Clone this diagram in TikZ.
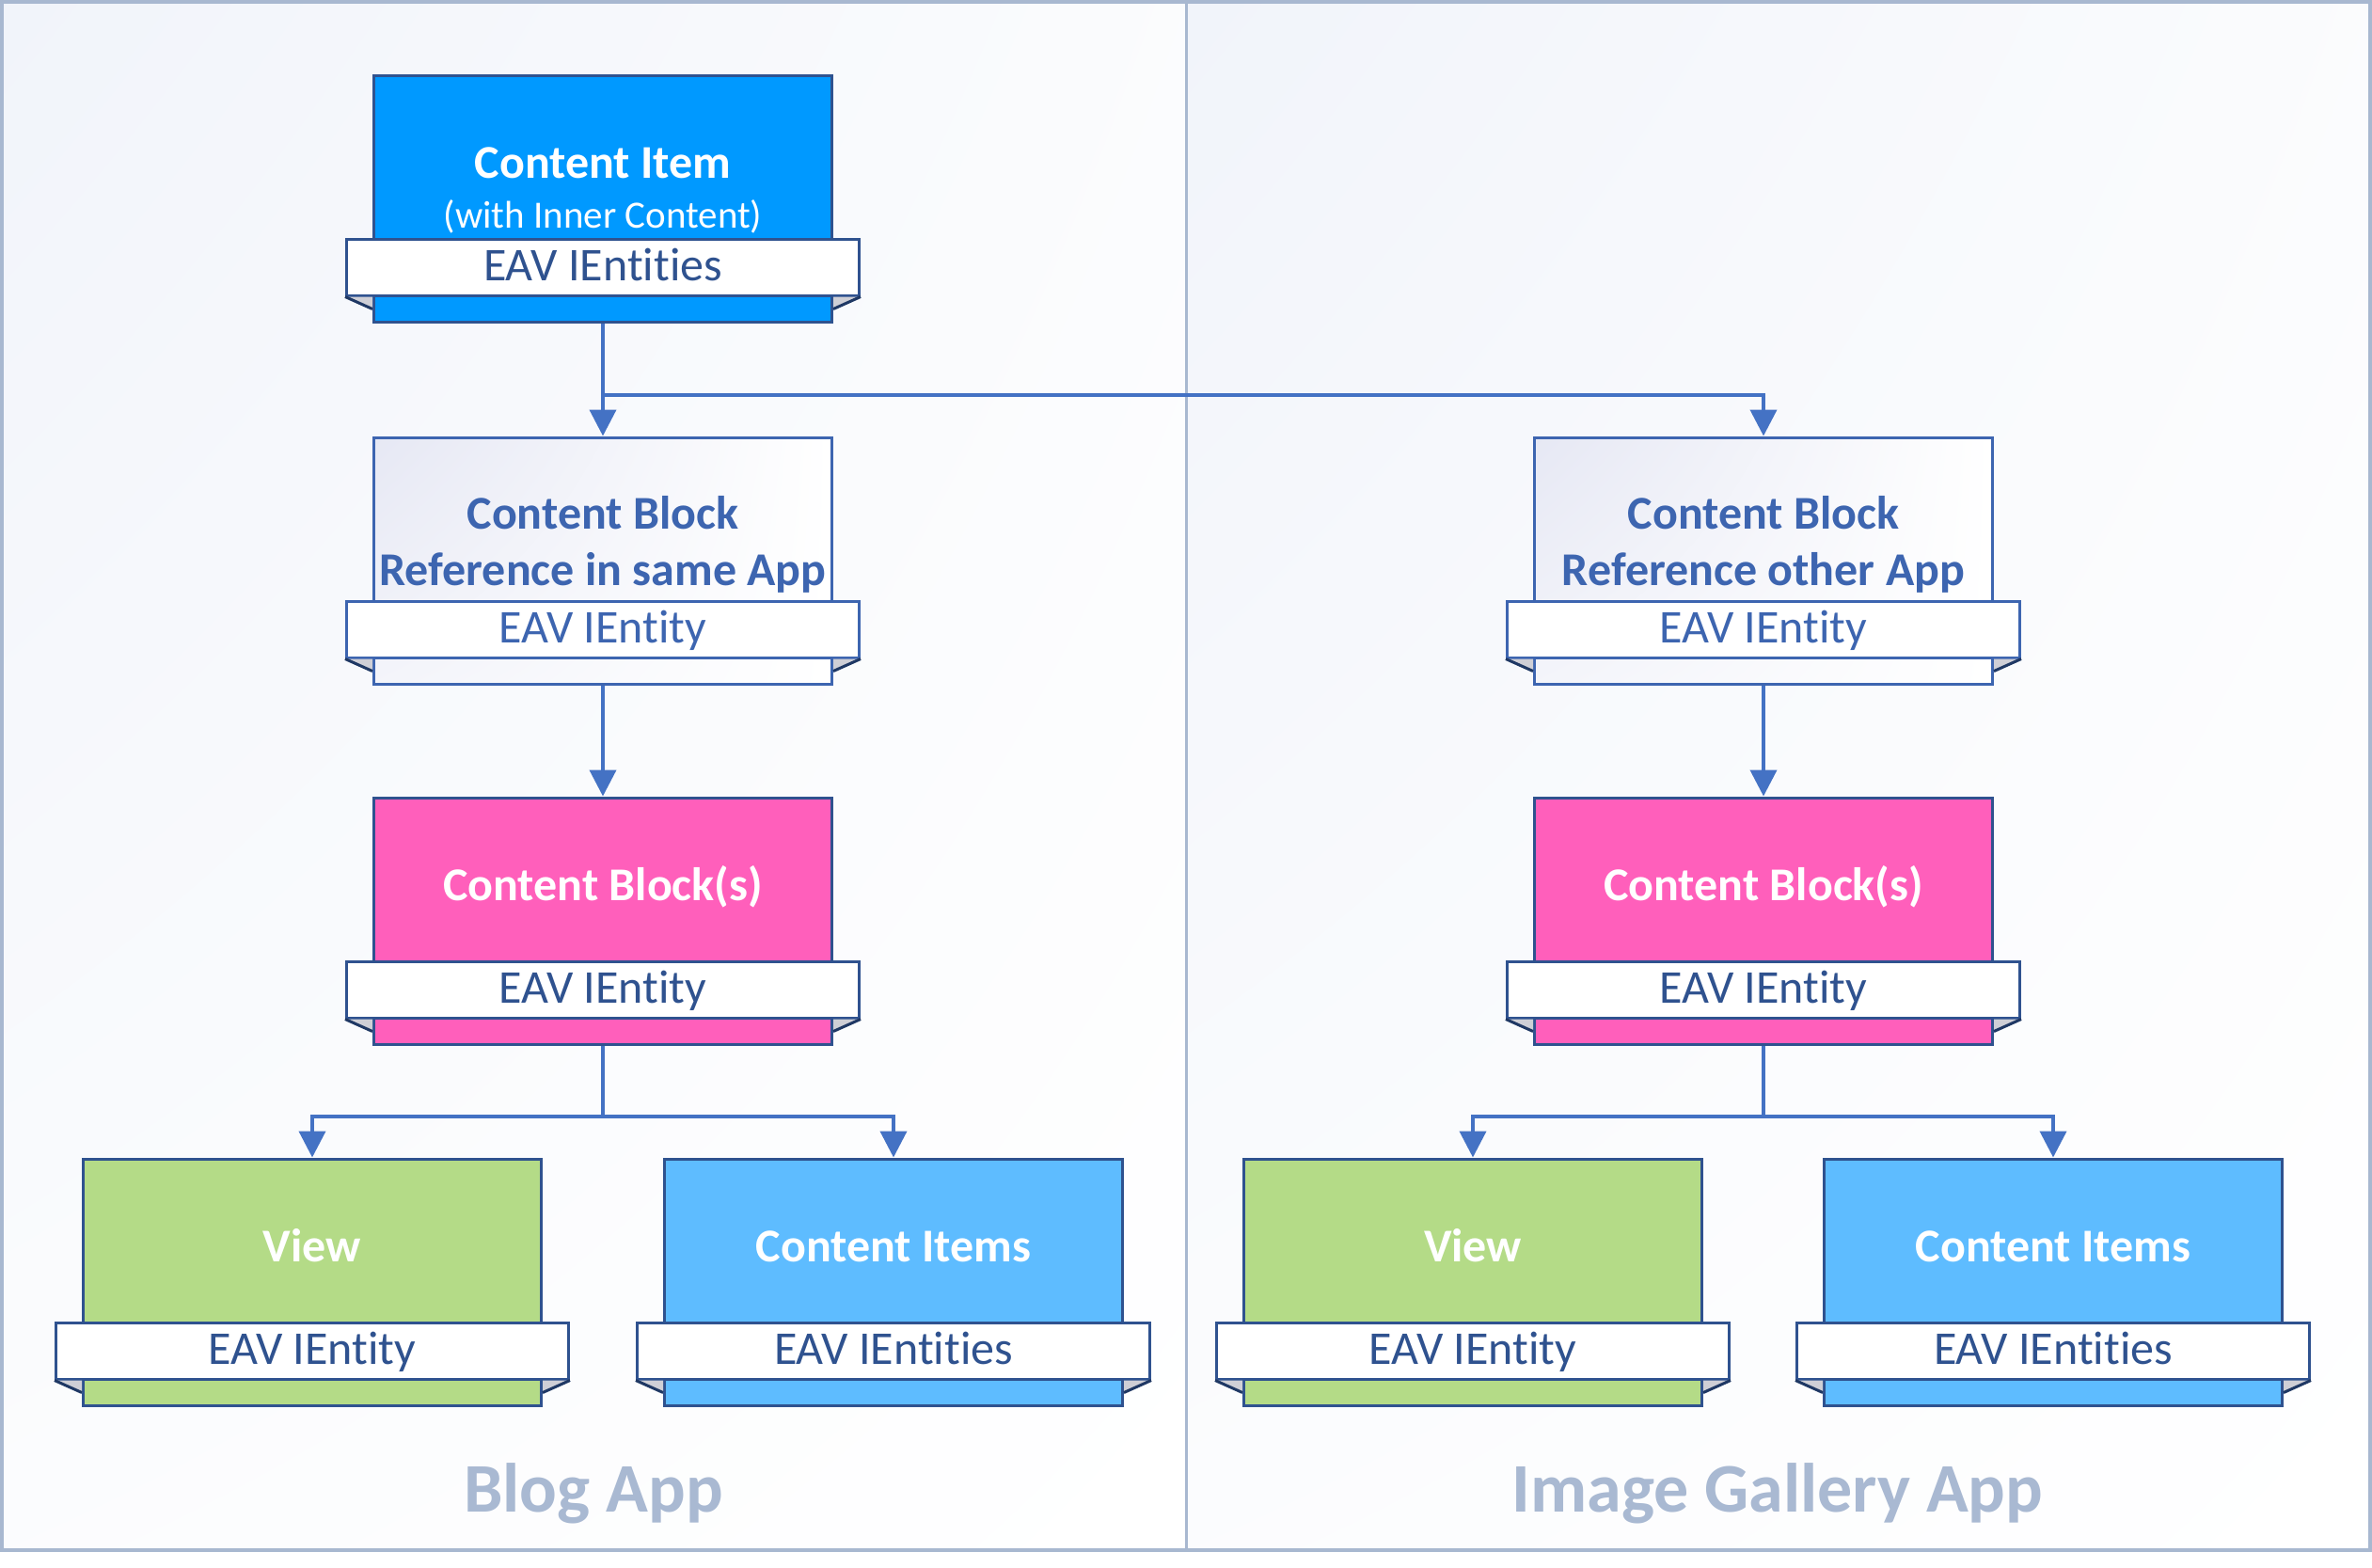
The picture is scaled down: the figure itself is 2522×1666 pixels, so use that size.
\documentclass[tikz,border=0pt]{standalone}
\usepackage{fontspec}
\setmainfont[Ligatures={NoCommon,NoRare,NoContextual}]{Carlito}
\usetikzlibrary{arrows.meta,calc,shadings}

\definecolor{navy}{HTML}{2F528F}
\definecolor{refblue}{HTML}{3D65B0}
\definecolor{linkblue}{HTML}{4472C4}
\definecolor{itemblue}{HTML}{0099FF}
\definecolor{blockpink}{HTML}{FF5FBB}
\definecolor{viewgreen}{HTML}{B4DB87}
\definecolor{itemsblue}{HTML}{5EBCFF}
\definecolor{framegrey}{HTML}{A8B8D0}
\definecolor{labelgrey}{HTML}{A9B9D2}
\definecolor{tailgrey}{HTML}{CFCFD6}
\definecolor{taildark}{HTML}{1F3864}
\definecolor{paneltint}{HTML}{F1F4FA}
\definecolor{reftint}{HTML}{E6E8F4}

\tikzset{
  appbox/.style={draw=navy, line width=0.9pt, minimum width=146.1pt, minimum height=78.6pt, inner sep=0pt},
  refbox/.style={appbox, draw=refblue, shade, upper left=reftint, upper right=white, lower left=white!55!reftint, lower right=white},
  ribbon/.style={draw=navy, fill=white, line width=0.9pt, minimum width=163.5pt, minimum height=18pt, inner sep=0pt,
    text height=10pt, text depth=1.6pt, text=navy, font=\fontsize{15}{18}\selectfont},
  refribbon/.style={ribbon, draw=refblue, text=refblue},
  title/.style={anchor=base, inner sep=0pt, text=white, font=\fontsize{15}{18}\selectfont\bfseries},
  subtitle/.style={anchor=base, inner sep=0pt, text=white, font=\fontsize{12.3}{15}\selectfont},
  applabel/.style={anchor=base, inner sep=0pt, text=labelgrey, font=\fontsize{22.2}{26}\selectfont\bfseries},
  link/.style={draw=linkblue, line width=1.2pt, -{Triangle[width=8.4pt,length=8.4pt]}}
}

\begin{document}
\begin{tikzpicture}[x=0.3pt,y=0.3pt,yscale=-1]
\useasboundingbox (0,0) rectangle (2522,1666);

% Panels
\shade[upper left=paneltint, upper right=white!70!paneltint, lower left=white!75!paneltint, lower right=white] (2,2) rectangle (1261,1648);
\shade[upper left=paneltint, upper right=white!70!paneltint, lower left=white!75!paneltint, lower right=white] (1261,2) rectangle (2520,1648);
\draw[framegrey, line width=1.2pt] (2,2) rectangle (2520,1648);
\draw[framegrey, line width=0.9pt] (1261,2) -- (1261,1648);

% Boxes
\node[appbox, fill=itemblue] (item) at (641,211) {};
\node[refbox] (refL) at (641,596) {};
\node[refbox] (refR) at (1875,596) {};
\node[appbox, fill=blockpink] (blockL) at (641,979) {};
\node[appbox, fill=blockpink] (blockR) at (1875,979) {};
\node[appbox, fill=viewgreen] (viewL) at (332,1363) {};
\node[appbox, fill=itemsblue] (itemsL) at (950,1363) {};
\node[appbox, fill=viewgreen] (viewR) at (1566,1363) {};
\node[appbox, fill=itemsblue] (itemsR) at (2183,1363) {};

% Ribbons
\node[ribbon] (item-rib) at (641,284) {EAV IEntities};
\node[refribbon] (refL-rib) at (641,669) {EAV IEntity};
\node[refribbon] (refR-rib) at (1875,669) {EAV IEntity};
\node[ribbon] (blockL-rib) at (641,1052) {EAV IEntity};
\node[ribbon] (blockR-rib) at (1875,1052) {EAV IEntity};
\node[ribbon] (viewL-rib) at (332,1436) {EAV IEntity};
\node[ribbon] (itemsL-rib) at (950,1436) {EAV IEntities};
\node[ribbon] (viewR-rib) at (1566,1436) {EAV IEntity};
\node[ribbon] (itemsR-rib) at (2183,1436) {EAV IEntities};

% Ribbon tails
\foreach \b in {item,refL,refR,blockL,blockR,viewL,itemsL,viewR,itemsR}{
  \coordinate (tw) at ($(\b.west |- \b-rib.south)+(0,13)$);
  \coordinate (te) at ($(\b.east |- \b-rib.south)+(0,13)$);
  \fill[tailgrey] (\b-rib.south west) -- (\b.west |- \b-rib.south) -- (tw) -- cycle;
  \fill[tailgrey] (\b-rib.south east) -- (\b.east |- \b-rib.south) -- (te) -- cycle;
  \draw[taildark, line width=0.9pt] (\b-rib.south west) -- (tw);
  \draw[taildark, line width=0.9pt] (\b-rib.south east) -- (te);
}

% Text Node
\node[title] (itemT) at (641,189) {Content Item};
\node[subtitle] (itemS) at (641,242) {(with Inner Content)};
\node[title, text=refblue] (refLT) at (641,562) {Content Block};
\node[title, text=refblue] (refLS) at (641,622) {Reference in same App};
\node[title, text=refblue] (refRT) at (1875,562) {Content Block};
\node[title, text=refblue] (refRS) at (1875,622) {Reference other App};
\node[title] (blockLT) at (641,957) {Content Block(s)};
\node[title] (blockRT) at (1875,957) {Content Block(s)};
\node[title] (viewLT) at (332,1341) {View};
\node[title] (itemsLT) at (950,1341) {Content Items};
\node[title] (viewRT) at (1566,1341) {View};
\node[title] (itemsRT) at (2183,1341) {Content Items};
\node[applabel] (blog) at (631,1607) {Blog App};
\node[applabel] (gallery) at (1890,1607) {Image Gallery App};

% Connectors
\coordinate (split) at (641,420);
\coordinate (forkL) at (641,1187);
\coordinate (forkR) at (1875,1187);
\draw[link] (item.south) -- (refL.north);
\draw[link] (split) -| (refR.north);
\draw[link] (refL.south) -- (blockL.north);
\draw[link] (refR.south) -- (blockR.north);
\draw[link] (blockL.south) -- (forkL) -| (viewL.north);
\draw[link] (forkL) -| (itemsL.north);
\draw[link] (blockR.south) -- (forkR) -| (viewR.north);
\draw[link] (forkR) -| (itemsR.north);

\end{tikzpicture}
\end{document}
